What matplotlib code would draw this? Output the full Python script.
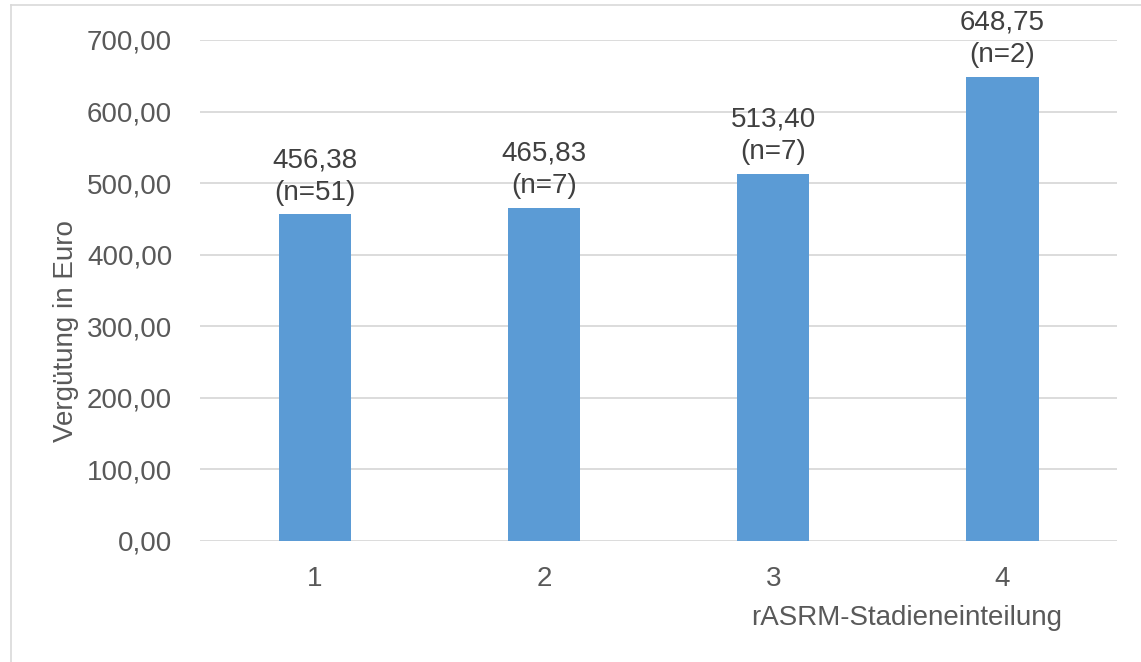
import matplotlib.pyplot as plt
from matplotlib.lines import Line2D

plt.rcParams['font.family'] = ['Liberation Sans', 'DejaVu Sans']

# rASRM-Stadien und mittlere Vergütung
stadien = [1, 2, 3, 4]
verguetung = [456.38, 465.83, 513.40, 648.75]
anzahl = [51, 7, 7, 2]
yticks = [0, 100, 200, 300, 400, 500, 600, 700]

def de(v):
    return f"{v:.2f}".replace('.', ',')

fig = plt.figure(figsize=(11.41, 6.62), dpi=100)
ax = fig.add_axes([0.1753, 0.1828, 0.8037, 0.7568])

ax.bar(stadien, verguetung, width=0.315, color='#5b9bd5', zorder=3)

for x, v, n in zip(stadien, verguetung, anzahl):
    ax.annotate(f"{de(v)}\n(n={n})", (x, v), xytext=(0, 6), textcoords='offset points',
                ha='center', va='bottom', fontsize=20, color='#404040', linespacing=1.32)

ax.set_xlim(0.5, 4.5)
ax.set_ylim(0, 700)
ax.set_yticks(yticks)
ax.set_yticklabels([de(t) for t in yticks])
ax.set_xticks(stadien)
ax.set_xticklabels([str(s) for s in stadien])
ax.grid(axis='y', color='#d9d9d9', linewidth=1.3, zorder=0)
for s in ax.spines.values():
    s.set_visible(False)
ax.tick_params(length=0, labelsize=20, colors='#595959', pad=18)
ax.tick_params(axis='y', pad=20)

fig.text(0.058, 0.5, 'Vergütung in Euro', rotation=90, ha='center', va='center',
         fontsize=20, color='#595959')
fig.text(0.795, 0.066, 'rASRM-Stadieneinteilung', ha='center', va='center',
         fontsize=20, color='#595959')

# Rahmen links und oben
fig.add_artist(Line2D([0.0093, 0.0093], [0, 0.9925], color='#d9d9d9', lw=1.2))
fig.add_artist(Line2D([0.0093, 1], [0.9925, 0.9925], color='#d9d9d9', lw=1.2))

fig.savefig('out.png', dpi=100)
